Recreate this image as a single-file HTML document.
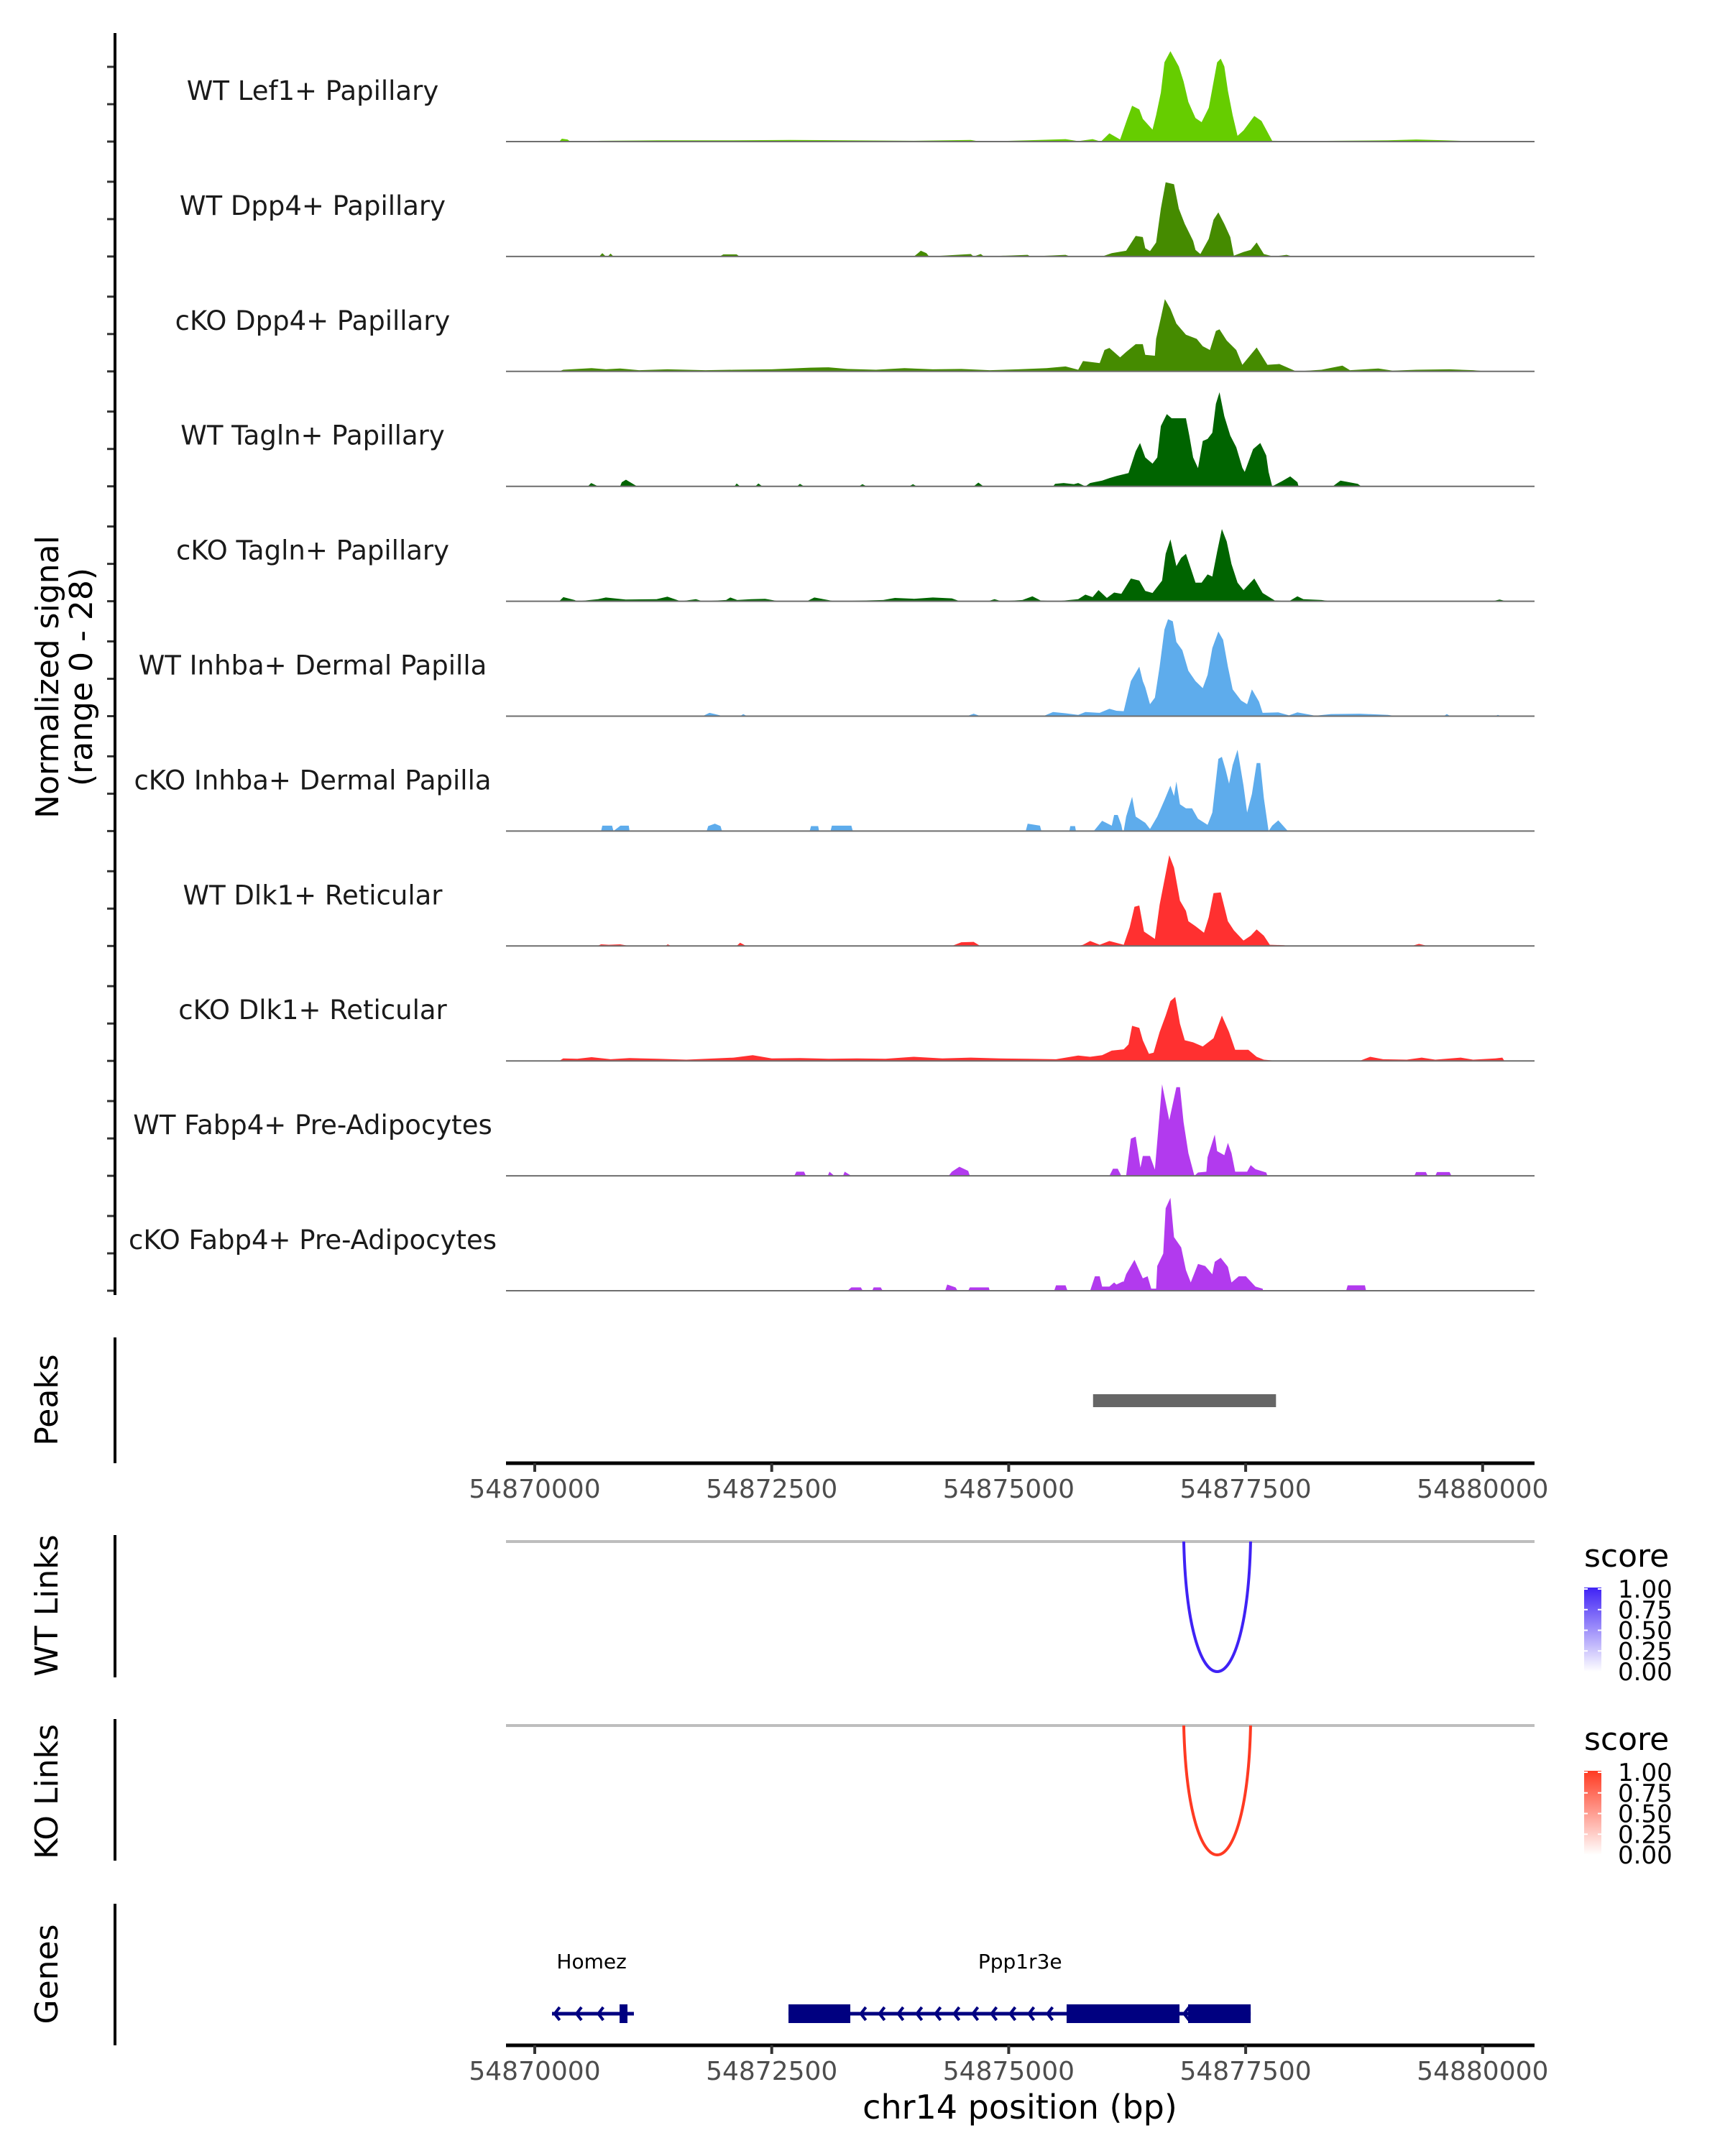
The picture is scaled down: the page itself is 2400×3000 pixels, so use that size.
<!DOCTYPE html>
<html><head><meta charset="utf-8"><style>
html,body{margin:0;padding:0;background:#fff;}
svg{display:block;font-family:"DejaVu Sans","Liberation Sans",sans-serif;}
</style></head><body>
<svg id="chart" xmlns="http://www.w3.org/2000/svg" width="2400" height="3000" viewBox="0 0 2400 3000">
<rect x="0" y="0" width="2400" height="3000" fill="#fff"/>
<g id="tracks"></g>
<g id="frame"></g>
</svg>
<script>
// ---- data (positions = bp offset from regionStart, values = normalized signal) ----
const regionStart = 54870000;
const trackNames = ["WT Lef1+ Papillary","WT Dpp4+ Papillary","cKO Dpp4+ Papillary","WT Tagln+ Papillary","cKO Tagln+ Papillary","WT Inhba+ Dermal Papilla","cKO Inhba+ Dermal Papilla","WT Dlk1+ Reticular","cKO Dlk1+ Reticular","WT Fabp4+ Pre-Adipocytes","cKO Fabp4+ Pre-Adipocytes"];
const trackColors = ["#66CD00","#458B00","#458B00","#006400","#006400","#5EACEC","#5EACEC","#FF3030","#FF3030","#B23AEE","#B23AEE"];
const lef1WT = [[0,0],[258,0],[287,0.7],[346,0.5],[375,0],[700,0.2],[1300,0.3],[2100,0.3],[2700,0.4],[3300,0.3],[4000,0.2],[4600,0.4],[4700,0],[5200,0.3],[5600,0.6],[5733,0.1],[5885,0.6],[5973,0],[6062,2.0],[6175,0.5],[6251,5.5],[6302,8.7],[6378,7.8],[6415,5.5],[6517,2.9],[6555,6.4],[6605,11.9],[6643,19.2],[6706,21.9],[6795,18.2],[6845,14.6],[6896,9.6],[6971,5.7],[7035,4.7],[7111,8.2],[7199,19.2],[7237,20.1],[7275,18.2],[7313,12.3],[7363,6.4],[7414,1.4],[7477,2.7],[7591,6.2],[7667,5.0],[7780,0.2],[8000,0.1],[9000,0.3],[9300,0.5],[9600,0.3],[10000,0],[10574,0]];
const dpp4WT = [[0,0],[680,0],[713,0.8],[750,0],[771,0],[800,0.7],[830,0],[1950,0],[1990,0.5],[2130,0.5],[2160,0],[4000,0],[4044,0.8],[4073,1.4],[4132,0.8],[4160,0],[4600,0.6],[4631,0],[4705,0.6],[4740,0],[5200,0.4],[5230,0],[5600,0.4],[5650,0],[5986,0],[6087,0.8],[6239,1.4],[6340,5.0],[6415,4.7],[6441,2.0],[6491,1.3],[6555,3.4],[6605,11.6],[6656,18.0],[6744,17.5],[6795,11.6],[6858,7.9],[6946,3.8],[6971,1.6],[7022,0.6],[7111,4.3],[7161,8.9],[7212,10.7],[7275,7.9],[7338,4.7],[7376,0.2],[7477,1.1],[7553,1.6],[7616,3.4],[7692,0.6],[7793,0],[7932,0.4],[7995,0],[10574,0]];
const dpp4KO = [[0,0],[258,0],[300,0.4],[450,0.6],[600,0.8],[750,0.5],[900,0.7],[1100,0.3],[1400,0.5],[1800,0.3],[2100,0.4],[2500,0.5],[2900,0.9],[3100,1.0],[3300,0.6],[3600,0.4],[3900,0.8],[4200,0.5],[4500,0.6],[4800,0.3],[5100,0.5],[5400,0.8],[5600,1.2],[5733,0.4],[5784,2.5],[5960,2.0],[6011,5.2],[6062,5.7],[6175,3.4],[6239,4.7],[6340,6.6],[6415,6.6],[6441,4.0],[6542,3.8],[6555,7.9],[6605,13.0],[6648,17.5],[6706,15.2],[6769,11.6],[6870,8.9],[6984,7.9],[7047,6.1],[7123,5.2],[7186,9.8],[7224,10.2],[7300,7.5],[7401,5.2],[7465,1.6],[7616,5.8],[7730,1.6],[7856,1.8],[8033,0],[8300,0.4],[8521,1.4],[8600,0.3],[8900,0.7],[9050,0.2],[9300,0.4],[9650,0.5],[9900,0.3],[10050,0],[10574,0]];
const taglnWT = [[0,0],[560,0],[595,0.8],[669,0],[900,0],[918,1.0],[962,1.6],[1080,0],[2107,0],[2130,0.7],[2166,0],[2327,0],[2360,0.7],[2401,0],[2768,0],[2797,0.6],[2841,0],[3420,0],[3457,0.5],[3501,0],[3950,0],[3990,0.5],[4030,0],[4631,0],[4680,0.9],[4734,0],[5468,0],[5490,0.6],[5580,0.8],[5688,0.5],[5733,0.8],[5809,0],[5859,0.8],[5986,1.4],[6062,2.0],[6137,2.5],[6264,3.2],[6340,8.5],[6385,10.5],[6441,7.0],[6517,5.5],[6567,7.0],[6605,14.6],[6668,17.5],[6719,16.5],[6795,16.5],[6870,16.5],[6908,12],[6946,7.0],[6997,4.4],[7047,11.0],[7098,11.5],[7148,13],[7186,20],[7224,22.8],[7275,17],[7338,12.3],[7401,9.5],[7465,4.5],[7490,3.5],[7578,9],[7654,10.5],[7717,7.5],[7742,3.5],[7780,0],[7881,1.2],[7970,2.4],[8046,1.0],[8058,0],[8418,0],[8500,1.4],[8682,0.6],[8720,0],[10574,0]];
const taglnKO = [[0,0],[258,0],[302,1.0],[419,0.3],[450,0],[669,0.5],[750,0.9],[960,0.4],[1285,0.5],[1400,1.1],[1540,0],[1700,0.5],[1770,0],[2019,0.3],[2063,0.9],[2136,0.3],[2283,0.5],[2430,0.6],[2577,0],[2871,0],[2950,0.9],[3164,0],[3677,0.3],[3800,0.8],[4000,0.6],[4200,0.9],[4400,0.7],[4485,0],[4778,0],[4851,0.5],[4925,0],[5145,0.3],[5250,1.2],[5336,0.2],[5500,0],[5733,0.5],[5809,1.6],[5885,1.0],[5948,2.7],[6036,0.8],[6112,2.1],[6188,1.8],[6289,5.5],[6378,5.0],[6441,2.5],[6517,2.0],[6618,5.0],[6656,11.5],[6706,15],[6769,8.5],[6820,10.5],[6870,11.5],[6921,8],[6971,4.5],[7035,4.5],[7098,6.5],[7148,6],[7199,12],[7249,17.5],[7300,14.5],[7351,9],[7414,4.5],[7477,2.7],[7591,5.5],[7679,2.0],[7806,0.2],[7957,0],[8046,1.2],[8109,0.5],[8300,0.3],[8400,0],[10100,0],[10179,0.4],[10250,0],[10574,0]];
const inhbaWT = [[0,0],[1770,0],[1843,0.8],[1900,0.5],[1990,0],[2166,0],[2200,0.5],[2240,0],[4558,0],[4631,0.6],[4705,0],[5365,0],[5468,1.0],[5600,0.7],[5733,0.3],[5809,1.0],[5960,0.8],[6062,1.8],[6137,1.3],[6213,1.2],[6289,8.5],[6340,10.5],[6378,12],[6415,8.5],[6441,7.0],[6491,2.9],[6542,4.5],[6592,12],[6643,21],[6681,23.5],[6731,23],[6769,18],[6832,16],[6896,11],[6971,8.5],[7047,6.8],[7098,10],[7148,16.5],[7212,20.5],[7262,18.5],[7313,12],[7363,6.5],[7452,3.8],[7515,2.9],[7566,6.5],[7641,3.5],[7679,0.8],[7844,0.9],[7957,0.2],[8046,0.9],[8235,0.1],[8400,0.5],[8700,0.6],[9000,0.3],[9100,0],[9590,0],[9622,0.5],[9660,0],[10130,0],[10160,0.3],[10200,0],[10574,0]];
const inhbaKO = [[0,0],[700,0],[713,1.3],[816,1.3],[830,0],[904,1.3],[992,1.3],[1000,0],[1814,0],[1830,1.2],[1900,1.8],[1960,1.2],[1975,0],[2900,0],[2915,1.2],[2990,1.2],[3000,0],[3120,0],[3135,1.3],[3340,1.3],[3355,0],[5180,0],[5200,1.8],[5330,1.3],[5345,0],[5640,0],[5650,1.2],[5700,1.2],[5710,0],[5897,0],[5986,2.5],[6087,1.3],[6112,3.9],[6150,3.9],[6188,1.5],[6201,0],[6213,0],[6239,3.5],[6302,8.3],[6340,3.5],[6441,2.0],[6491,0.5],[6567,3.5],[6643,7.5],[6706,11],[6744,8.5],[6769,12],[6807,6.5],[6870,5.5],[6934,5.5],[6997,3.0],[7098,1.5],[7148,4.5],[7212,17.5],[7249,18],[7287,15],[7325,11.5],[7363,16],[7414,19.7],[7477,11],[7515,4.5],[7566,9],[7616,16.5],[7654,16.5],[7692,8],[7742,0],[7780,1.3],[7844,2.6],[7945,0],[10574,0]];
const dlk1WT = [[0,0],[660,0],[700,0.4],[780,0.3],[900,0.4],[1000,0],[1380,0],[1403,0.4],[1440,0],[2130,0],[2166,0.8],[2230,0],[4400,0],[4500,0.9],[4631,1.0],[4700,0],[5733,0],[5784,0.3],[5859,1.2],[5960,0.3],[6062,1.2],[6213,0.3],[6276,4.5],[6327,9.5],[6378,9.8],[6428,3.5],[6542,1.7],[6592,10],[6694,22],[6744,19],[6807,11],[6870,8.5],[6896,6],[6971,4.8],[7060,3.2],[7111,7],[7161,12.8],[7237,13],[7313,6],[7376,3.8],[7477,1.3],[7553,2.5],[7616,4],[7692,2.5],[7755,0.3],[7907,0.2],[7932,0],[9250,0],[9328,0.5],[9420,0],[10574,0]];
const dlk1KO = [[0,0],[258,0],[300,0.6],[450,0.5],[600,0.9],[800,0.4],[1000,0.7],[1300,0.5],[1600,0.3],[1900,0.6],[2100,0.8],[2300,1.4],[2500,0.6],[2800,0.7],[3100,0.5],[3400,0.6],[3700,0.5],[4000,1.0],[4300,0.6],[4600,0.8],[4900,0.6],[5200,0.5],[5500,0.4],[5733,1.3],[5859,1],[5986,1.4],[6087,2.5],[6213,2.8],[6264,4.0],[6302,8.5],[6378,8.0],[6415,5],[6479,1.7],[6529,2.0],[6592,7],[6656,11],[6706,14.5],[6757,15.5],[6807,9],[6858,5],[6946,4.5],[7047,3.5],[7161,5.5],[7249,11],[7325,7],[7389,2.7],[7528,2.7],[7616,1],[7692,0.3],[7844,0],[8700,0],[8814,1.0],[8950,0.4],[9200,0.3],[9357,0.8],[9500,0.3],[9768,0.8],[9900,0.3],[10135,0.6],[10208,0.8],[10230,0],[10574,0]];
const fabp4WT = [[0,0],[2738,0],[2760,1.0],[2841,1.0],[2860,0],[3091,0],[3110,1.0],[3160,0],[3252,0],[3270,1.0],[3340,0],[4367,0],[4400,1.0],[4480,2.2],[4573,1.2],[4590,0],[6062,0],[6100,1.7],[6150,1.7],[6188,0],[6239,0],[6289,9],[6340,9.5],[6390,2],[6415,4.8],[6491,4.8],[6542,1.5],[6618,22.2],[6694,13.5],[6769,21.5],[6807,21.5],[6845,13],[6896,5.5],[6959,0],[6997,0.8],[7085,1],[7098,4.5],[7174,10],[7199,6],[7275,5],[7313,8],[7351,5.5],[7389,1],[7515,1],[7553,2.6],[7603,1.6],[7717,0.8],[7730,0],[9280,0],[9298,0.9],[9401,0.9],[9420,0],[9500,0],[9519,0.9],[9651,0.9],[9670,0],[10574,0]];
const fabp4KO = [[0,0],[3300,0],[3340,0.8],[3440,0.8],[3460,0],[3560,0],[3575,0.8],[3650,0.8],[3670,0],[4330,0],[4352,1.5],[4440,0.8],[4460,0],[4573,0],[4590,0.8],[4790,0.8],[4800,0],[5480,0],[5500,1.3],[5600,1.3],[5620,0],[5859,0],[5910,3.5],[5960,3.5],[5986,1],[6062,1],[6112,2],[6137,1.5],[6201,2.2],[6213,2.2],[6239,4],[6327,7.5],[6415,3],[6466,3.5],[6504,0.5],[6555,0.5],[6567,6],[6630,9],[6656,20],[6706,22.5],[6744,13],[6820,10.5],[6870,5],[6921,2],[6997,6.5],[7073,6],[7148,4],[7174,7],[7237,8],[7313,5.8],[7351,2],[7427,3.5],[7502,3.5],[7603,1],[7679,0.5],[7684,0],[8560,0],[8576,1.3],[8758,1.3],[8770,0],[10574,0]];
const trackSignals = [lef1WT,dpp4WT,dpp4KO,taglnWT,taglnKO,inhbaWT,inhbaKO,dlk1WT,dlk1KO,fabp4WT,fabp4KO];
const xTickValues = [54870000,54872500,54875000,54877500,54880000];
const peakRegions = [[5890,7820]];
const wtLinks = [[6847,7552,1.0]];
const koLinks = [[6847,7552,1.0]];
const legendTicks = ["1.00","0.75","0.50","0.25","0.00"];
const geneNames = ["Homez","Ppp1r3e"];
const geneSpans = [[182,1046],[2677,7553]];
const geneExons = [[[895,978]],[[2677,3329],[5611,6802],[6893,7553]]];
const geneLabelPos = [600,5120];
const geneChevrons = [[210,440,670,900],[3440,3637,3834,4031,4228,4425,4622,4819,5016,5213,5410,6850]];

// ---- layout ----
const NS = "http://www.w3.org/2000/svg";
const X0 = 744, PXPERBP = 0.13188, PLOT_L = 704, PLOT_R = 2135;
const BASE0 = 197, TRACK_STEP = 159.9, PXPERUNIT = 5.74;
const xScale = off => X0 + off * PXPERBP;
const xBp = bp => xScale(bp - regionStart);
function mk(tag, attrs, parent, text){
  const el = document.createElementNS(NS, tag);
  for (const k in attrs) el.setAttribute(k, attrs[k]);
  if (text !== undefined) el.textContent = text;
  parent.appendChild(el);
  return el;
}
const svg = document.getElementById('chart');
const gT = document.getElementById('tracks');
const gF = document.getElementById('frame');

// tracks
trackSignals.forEach((sig, i) => {
  const base = BASE0 + TRACK_STEP * i;
  const yS = v => base - v * PXPERUNIT;
  let d = "M" + xScale(sig[0][0]).toFixed(1) + "," + base;
  sig.forEach(p => { d += "L" + xScale(p[0]).toFixed(1) + "," + yS(p[1]).toFixed(1); });
  d += "L" + xScale(sig[sig.length-1][0]).toFixed(1) + "," + base + "Z";
  const area = mk('path', {d: d, fill: trackColors[i], stroke: 'none'}, gT);
  
  
  const bl = mk('line', {x1: PLOT_L, x2: PLOT_R, y1: base, y2: base, stroke: '#6e6e6e', 'stroke-width': 2}, gT);
  
  
  const lab = mk('text', {x: 435, y: base - 58, 'text-anchor': 'middle', 'font-size': 37, fill: '#1a1a1a'}, gT, trackNames[i]);
  
  
  [0, 52, 104].forEach(o => {
    const t = mk('line', {x1: 149, x2: 160, y1: base - o, y2: base - o, stroke: '#333', 'stroke-width': 3}, gF);
    
    
  });
});

// left axis lines
[[46,1802],[1861,2036],[2136,2334],[2392,2589],[2649,2846]].forEach(s => {
  const l = mk('line', {x1: 160, x2: 160, y1: s[0], y2: s[1], stroke: '#000', 'stroke-width': 4}, gF);
  
  
});
// rotated titles
function rot(txt, x, y, size, name){
  const t = mk('text', {x: 0, y: 0, transform: `translate(${x},${y}) rotate(-90)`, 'text-anchor': 'middle', 'font-size': size, fill: '#000'}, gF, txt);
  
  
}
rot("Normalized signal", 81, 942, 44, 'y-axis-title');
rot("(range 0 - 28)", 128, 942, 44, 'y-axis-subtitle');
rot("Peaks", 80, 1948, 44, 'peaks-panel-title');
rot("WT Links", 80, 2234, 44, 'wt-links-panel-title');
rot("KO Links", 80, 2493, 44, 'ko-links-panel-title');
rot("Genes", 80, 2747, 44, 'genes-panel-title');

// peaks
peakRegions.forEach(p => {
  const r = mk('rect', {x: xScale(p[0]), y: 1940, width: xScale(p[1]) - xScale(p[0]), height: 18, fill: '#666'}, gF);
  
  
});

// x axes
function xAxis(y, name){
  const g = mk('g', {}, gF);
  
  
  mk('line', {x1: PLOT_L, x2: PLOT_R, y1: y, y2: y, stroke: '#000', 'stroke-width': 5}, g);
  xTickValues.forEach(v => {
    const x = xBp(v);
    mk('line', {x1: x, x2: x, y1: y, y2: y + 12, stroke: '#333', 'stroke-width': 4}, g);
    const t = mk('text', {x: x, y: y + 48, 'text-anchor': 'middle', 'font-size': 36, fill: '#4d4d4d'}, g, String(v));
    
    
  });
}
xAxis(2036, 'peaks-x-axis');
xAxis(2846, 'genes-x-axis');
const xt = mk('text', {x: 1419, y: 2948, 'text-anchor': 'middle', 'font-size': 46, fill: '#000'}, gF, "chr14 position (bp)");



// links
const defs = mk('defs', {}, svg);
function linkPanel(links, top, bottom, color, gradId, legendY, name){
  const g = mk('g', {}, gF);
  
  
  mk('line', {x1: PLOT_L, x2: PLOT_R, y1: top, y2: top, stroke: '#bebebe', 'stroke-width': 4}, g);
  links.forEach(l => {
    const x1 = xScale(l[0]), x2 = xScale(l[1]);
    const cy = top + (bottom - top) / 0.75;
    const p = mk('path', {d: `M${x1},${top} C${x1 + (x2-x1)*0.06},${cy} ${x2 - (x2-x1)*0.06},${cy} ${x2},${top}`, fill: 'none', stroke: color, 'stroke-width': 4}, g);
    
    
  });
  const lg = mk('linearGradient', {id: gradId, x1: 0, y1: 1, x2: 0, y2: 0}, defs);
  mk('stop', {offset: 0, 'stop-color': '#ffffff'}, lg);
  mk('stop', {offset: 1, 'stop-color': color}, lg);
  const st = mk('text', {x: 2204, y: legendY, 'font-size': 44, fill: '#000'}, g, "score");
  
  
  const barTop = legendY + 29, barH = 117;
  const bar = mk('rect', {x: 2204, y: barTop, width: 24, height: barH, fill: `url(#${gradId})`}, g);
  
  
  legendTicks.forEach((lab, k) => {
    const y = barTop + 2 + k * (barH - 2) / 4;
    mk('line', {x1: 2204, x2: 2209, y1: y, y2: y, stroke: '#fff', 'stroke-width': 2}, g);
    mk('line', {x1: 2223, x2: 2228, y1: y, y2: y, stroke: '#fff', 'stroke-width': 2}, g);
    const t = mk('text', {x: 2251, y: y + 12, 'font-size': 34, fill: '#000'}, g, lab);
    
    
  });
}
linkPanel(wtLinks, 2145, 2326, '#3F22F5', 'gradWT', 2180, 'wt-links-panel');
linkPanel(koLinks, 2401, 2581, '#FF3A22', 'gradKO', 2435, 'ko-links-panel');

// genes
const GY = 2802;
geneNames.forEach((name, i) => {
  const g = mk('g', {}, gF);
  
  
  mk('line', {x1: xScale(geneSpans[i][0]), x2: xScale(geneSpans[i][1]), y1: GY, y2: GY, stroke: '#000080', 'stroke-width': 5}, g);
  geneChevrons[i].forEach(c => {
    const x = xScale(c);
    mk('path', {d: `M${x+7},${GY-9} L${x},${GY} L${x+7},${GY+9}`, fill: 'none', stroke: '#000080', 'stroke-width': 4}, g);
  });
  geneExons[i].forEach(e => {
    const r = mk('rect', {x: xScale(e[0]), y: GY - 13, width: xScale(e[1]) - xScale(e[0]), height: 26, fill: '#000080'}, g);
    
    
  });
  const t = mk('text', {x: xScale(geneLabelPos[i]), y: 2739, 'text-anchor': 'middle', 'font-size': 28, fill: '#000'}, g, name);
  
  
});
</script>
</body></html>
